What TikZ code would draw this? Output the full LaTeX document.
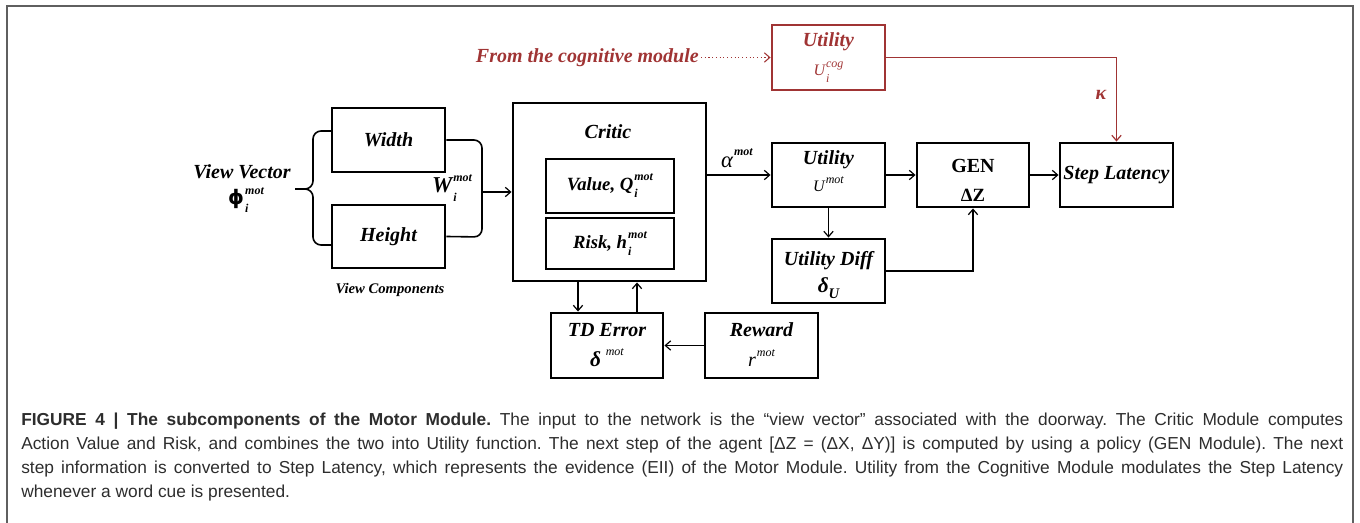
\documentclass[tikz,border=0pt]{standalone}
\usepackage{amsmath}
\usepackage{fontspec}
\setmainfont{Liberation Serif}
\newfontfamily\capfont{Liberation Sans}
\newfontfamily\dejavu{DejaVu Sans}
\usetikzlibrary{arrows.meta,calc}
\definecolor{cogred}{RGB}{160,52,52}
\definecolor{capgray}{RGB}{45,45,45}
\definecolor{framegray}{RGB}{95,95,95}
\newcommand{\ScrFont}{\fontsize{9}{9}\selectfont}
\newcommand{\SupSub}[2]{\kern0.8pt\rlap{\raisebox{-0.38em}{\ScrFont #2}}\raisebox{0.52em}{\ScrFont #1}}
\newcommand{\SupOnly}[1]{\kern0.8pt\raisebox{0.52em}{\ScrFont #1}}
\newcommand{\SubOnly}[1]{\raisebox{-0.3em}{\fontsize{11}{11}\selectfont #1}}
\frenchspacing
\begin{document}
\begin{tikzpicture}[x=0.75pt,y=-0.75pt,
  sz/.style 2 args={minimum width=#1*0.75pt, minimum height=#2*0.75pt},
  box/.style={draw, line width=2.2pt, inner sep=0pt, font=\fontsize{15}{18}\selectfont\bfseries\itshape},
  lbl/.style={inner sep=0pt, font=\fontsize{15}{18}\selectfont\bfseries\itshape},
  sublbl/.style={inner sep=0pt, font=\fontsize{13}{16}\selectfont\itshape},
  arr/.style={-{Straight Barb[length=4pt,width=7pt]}, line width=0.9pt},
  thin/.style={line width=1.2pt},
]
\useasboundingbox (0,0) rectangle (1360,523);
% frame
\draw[framegray, line width=1.1pt] (7,523) -- (7,6) -- (1353,6) -- (1353,523);

% left part
\node[lbl] (vv) at (242,172) {View Vector};
\node[lbl] (phi) at (246,200) {{\dejavu\bfseries\upshape ϕ}\SupSub{mot}{i}};
\node[box,sz={113}{64}] (width) at (388.5,140) {Width};
\node[box,sz={113}{63}] (height) at (388.5,236.5) {Height};
\node[lbl, font=\fontsize{11}{13}\selectfont\bfseries\itshape] (vc) at (390,290) {View Components};
\draw[thin, rounded corners=6pt] (332,131) -- (313,131) -- (313,189) -- (295,189);
\draw[thin, rounded corners=6pt] (295,189) -- (313,189) -- (313,245) -- (332,245);
\draw[thin, rounded corners=6pt] (width.east) -- (482,140) -- (482,237) -- (height.east);
\coordinate (wj) at (482,192);
\node[lbl, font=\fontsize{17}{20}\selectfont\bfseries\itshape] (wlbl) at (452,188) {W\SupSub{mot}{i}};

% critic
\node[box,sz={193}{178}] (critic) at (609.5,192) {};
\node[lbl] (criticlbl) at (608,132) {Critic};
\node[box,sz={128}{54}, font=\fontsize{14}{17}\selectfont\bfseries\itshape] (value) at (610,186) {Value, Q\SupSub{mot}{i}};
\node[box,sz={128}{51}, font=\fontsize{14}{17}\selectfont\bfseries\itshape] (risk) at (610,243.5) {Risk, h\SupSub{mot}{i}};
\draw[arr] (wj) -- (critic.west);

% utility chain
\node[box,sz={113}{64}] (util) at (828.5,175) {};
\node[lbl] (utill) at (828.5,160) {Utility};
\node[sublbl, font=\fontsize{12}{14}\selectfont\itshape] (utils) at (828.5,184) {U\SupOnly{mot}};
\node[box,sz={112}{64}] (gen) at (973,175) {};
\node[lbl, font=\fontsize{15}{18}\selectfont\bfseries] (genl) at (973,166) {GEN};
\node[lbl, font=\fontsize{14}{17}\selectfont\bfseries] (gens) at (973,195) {ΔZ};
\node[box,sz={113}{64}] (step) at (1116.5,175) {Step Latency};
\node[box,sz={113}{64}] (udiff) at (828.5,271) {};
\node[lbl] (udiffl) at (828.5,261) {Utility Diff};
\node[lbl, font=\fontsize{16}{18}\selectfont\bfseries\itshape] (udiffs) at (828.5,288) {δ\SubOnly{U}};
\node[lbl, font=\fontsize{17}{20}\selectfont\itshape] (alpha) at (737,158) {α\SupOnly{\bfseries mot}};

\draw[arr] (critic.east |- util.west) -- (util.west);
\draw[arr] (util.east) -- (gen.west);
\draw[arr] (gen.east) -- (step.west);
\draw[arr] (util.south) -- (udiff.north);
\draw[arr] (udiff.east) -| (gen.south);

% TD error and reward
\node[box,sz={112}{65}] (td) at (607,345.5) {};
\node[lbl] (tdl) at (607,330) {TD Error};
\node[lbl, font=\fontsize{16}{18}\selectfont\bfseries\itshape] (tds) at (607,358) {δ\,\SupOnly{\mdseries mot}};
\node[box,sz={113}{65}] (reward) at (761.5,345.5) {};
\node[lbl] (rewl) at (761.5,330) {Reward};
\node[lbl, font=\fontsize{15}{18}\selectfont\itshape] (rews) at (761.5,358) {r\SupOnly{mot}};
\draw[arr] ($(critic.south)+(-31.5,0)$) -- ($(td.north)+(-29,0)$);
\draw[arr] ($(td.north)+(30,0)$) -- ($(critic.south)+(27.5,0)$);
\draw[arr] (reward.west) -- (td.east);

% cognitive input
\node[box, draw=cogred, sz={113}{65}] (redutil) at (828.5,57.5) {};
\node[lbl, text=cogred] (redutill) at (828.5,42) {Utility};
\node[sublbl, text=cogred, font=\fontsize{12}{14}\selectfont\itshape] (redutils) at (828.5,72) {U\SupSub{cog}{i}};
\node[lbl, text=cogred, anchor=east] (from) at (699,57.5) {From the cognitive module};
\draw[cogred, dotted, line width=0.8pt, -{Straight Barb[length=4pt,width=7pt]}] ([xshift=1.5pt]from.east) -- (redutil.west);
\draw[cogred, line width=0.9pt, -{Straight Barb[length=4pt,width=7pt]}] (redutil.east) -| (step.north);
\node[lbl, text=cogred] (kappa) at (1101,95) {κ};

% caption
\node[anchor=north west, inner sep=0pt, text width=991.5pt, align=justify,
      font=\capfont\fontsize{13}{18}\selectfont, text=capgray] (cap) at (21,413)
{\textbf{FIGURE 4 | The subcomponents of the Motor Module.} The input to the network is the “view vector” associated with the doorway. The Critic Module computes\linebreak
Action Value and Risk, and combines the two into Utility function. The next step of the agent [ΔZ = (ΔX, ΔY)] is computed by using a policy (GEN Module). The next\linebreak
step information is converted to Step Latency, which represents the evidence (EII) of the Motor Module. Utility from the Cognitive Module modulates the Step Latency\linebreak
whenever a word cue is presented.};
\end{tikzpicture}
\end{document}
